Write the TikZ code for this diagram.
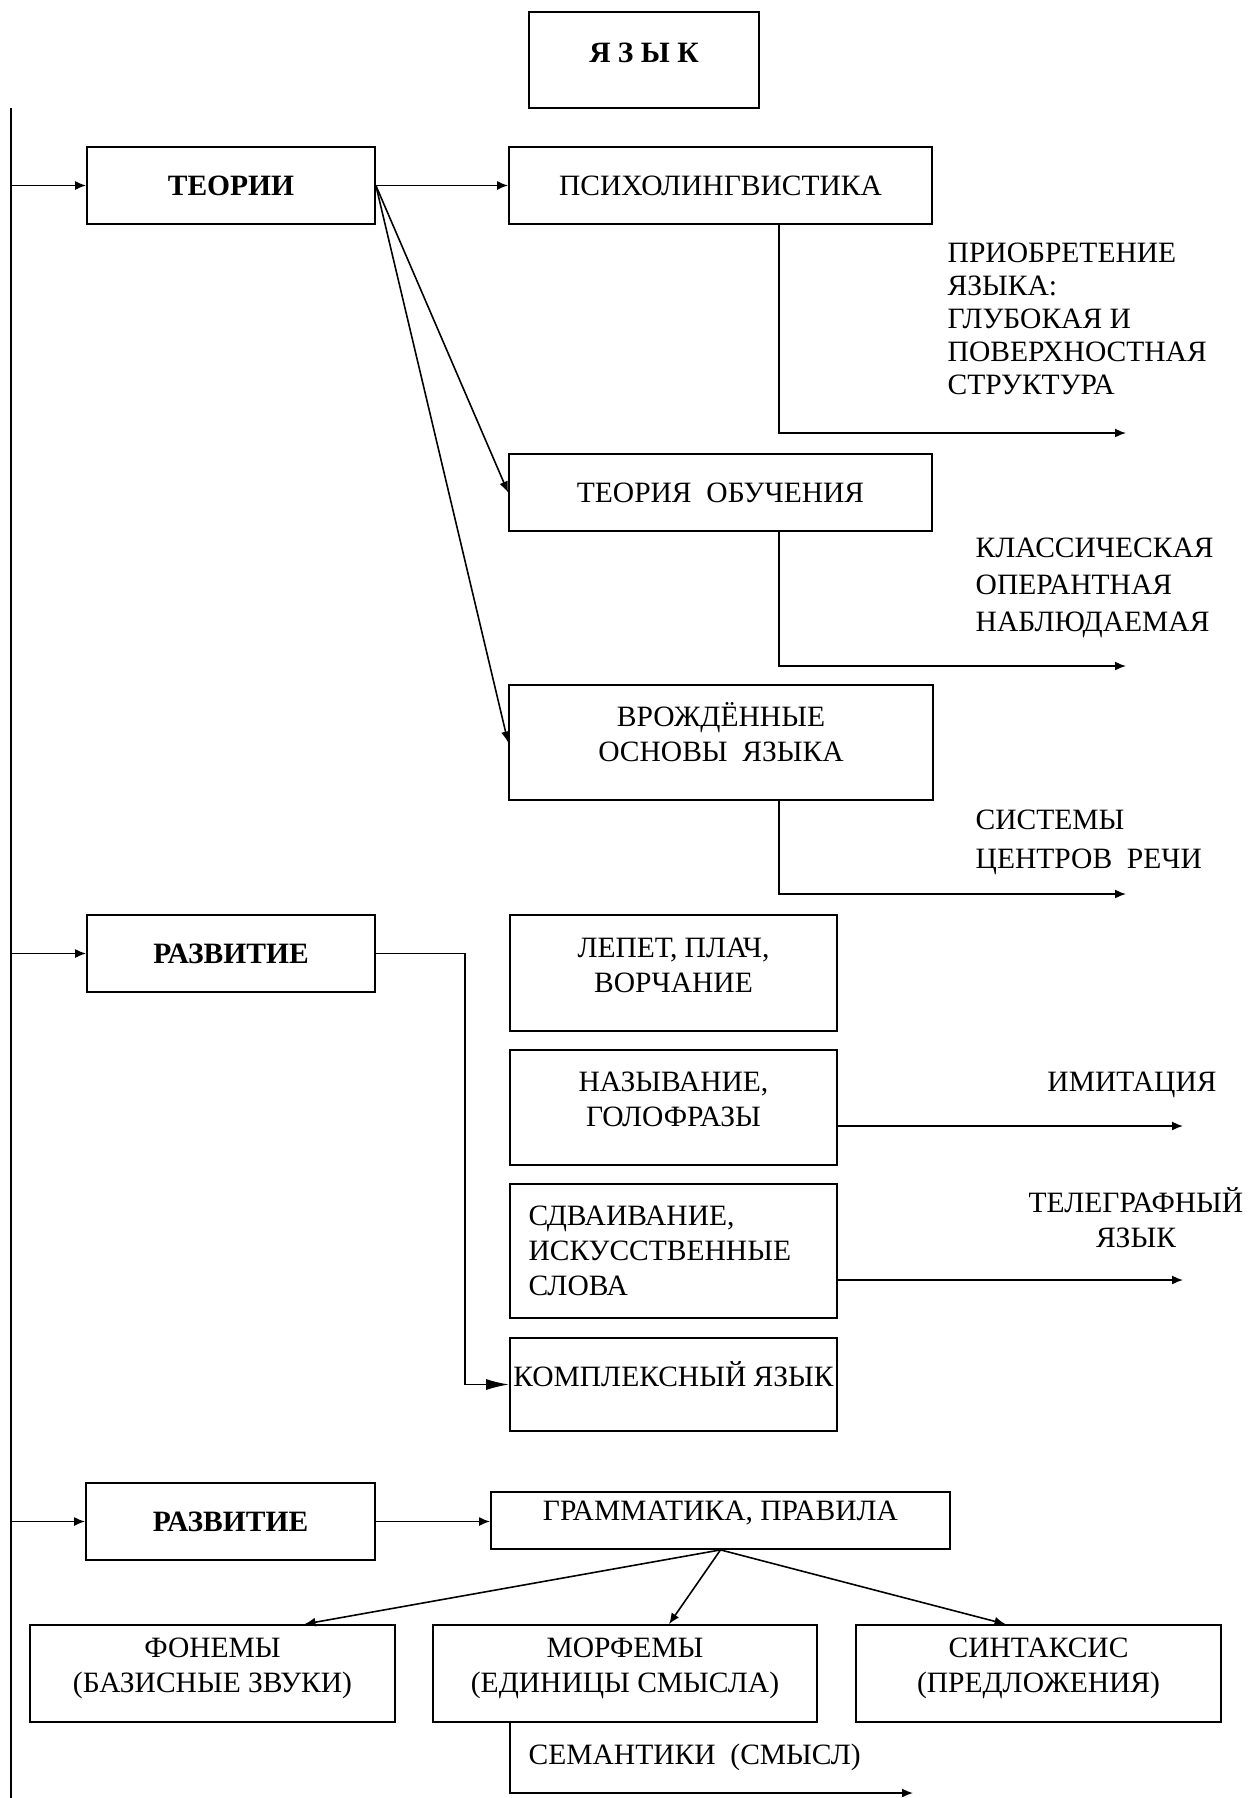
\documentclass[tikz,border=0pt]{standalone}
\usepackage{fontspec}
\setmainfont{Liberation Serif}
\usetikzlibrary{positioning,calc,arrows.meta}

\begin{document}
\begin{tikzpicture}[
    font=\fontsize{8.4}{10}\selectfont,
    box/.style={draw, line width=0.5pt, inner sep=2pt, align=center},
    head/.style={box, font=\fontsize{8.4}{10}\selectfont\bfseries},
    lifted/.style={text height=16pt, text depth=5pt},
    note/.style={anchor=west, inner sep=0pt, align=left},
    link/.style={line width=0.45pt, -{Latex[length=1.1mm,width=0.9mm]}},
    bigtip/.style={line width=0.45pt, -{Latex[length=2.3mm,width=1.1mm]}}
]

\useasboundingbox (0,0) rectangle (12.55,-17.98);

% Title
\node[head, minimum width=2.3cm, minimum height=0.96cm, text depth=4pt] (lang) at (6.44,-0.60) {Я З Ы К};

% Spine on the left
\coordinate (top) at (0.11,-1.08);
\coordinate (bot) at (0.11,-17.98);
\draw[line width=0.5pt] (top) -- (bot);

% Theories
\node[head, minimum width=2.88cm, minimum height=0.77cm] (theo) at (2.31,-1.855) {ТЕОРИИ};
\node[box, minimum width=4.23cm, minimum height=0.77cm] (psy) at (7.205,-1.855) {ПСИХОЛИНГВИСТИКА};
\node[box, minimum width=4.23cm, minimum height=0.77cm] (learn) at (7.205,-4.925) {ТЕОРИЯ~~ОБУЧЕНИЯ};
\node[box, lifted, minimum width=4.24cm, minimum height=1.15cm] (innate) at (7.21,-7.425) {ВРОЖДЁННЫЕ\\ОСНОВЫ~~ЯЗЫКА};

\draw[link] (theo -| top) -- (theo);
\draw[link] (theo.east) -- (psy);
\draw[link] (theo.east) -- (learn.west);
\draw[link] (theo.east) -- (innate.west);

% Outcomes of the theories
\coordinate (bx) at (7.79,0);
\coordinate (out1) at (11.26,-4.33);
\coordinate (out2) at (11.26,-6.66);
\coordinate (out3) at (11.26,-8.94);
\draw[link] (psy.south -| bx) |- (out1);
\draw[link] (learn.south -| bx) |- (out2);
\draw[link] (innate.south -| bx) |- (out3);

\node[note, font=\fontsize{8.4}{9.4}\selectfont] (acq) at (9.47,-3.185) {ПРИОБРЕТЕНИЕ\\ЯЗЫКА:\\ГЛУБОКАЯ И\\ПОВЕРХНОСТНАЯ\\СТРУКТУРА};
\node[note, font=\fontsize{8.4}{10.5}\selectfont] (cls) at (9.75,-5.88) {КЛАССИЧЕСКАЯ\\ОПЕРАНТНАЯ\\НАБЛЮДАЕМАЯ};
\node[note, font=\fontsize{8.4}{11}\selectfont] (ctr) at (9.75,-8.425) {СИСТЕМЫ\\ЦЕНТРОВ~~РЕЧИ};

% Development (stages)
\node[head, minimum width=2.88cm, minimum height=0.77cm] (dev1) at (2.31,-9.535) {РАЗВИТИЕ};
\node[box, lifted, minimum width=3.27cm, minimum height=1.16cm] (babble) at (6.735,-9.73) {ЛЕПЕТ, ПЛАЧ,\\ВОРЧАНИЕ};
\node[box, lifted, minimum width=3.27cm, minimum height=1.15cm] (naming) at (6.735,-11.075) {НАЗЫВАНИЕ,\\ГОЛОФРАЗЫ};
\node[box, minimum width=3.27cm, minimum height=1.34cm, text width=2.9cm, align=left] (dup) at (6.735,-12.51) {СДВАИВАНИЕ,\\ИСКУССТВЕННЫЕ\\СЛОВА};
\node[box, minimum width=3.27cm, minimum height=0.93cm, inner xsep=0pt, text depth=6pt] (cplx) at (6.735,-13.845) {КОМПЛЕКСНЫЙ ЯЗЫК};

\draw[link] (dev1 -| top) -- (dev1);
\coordinate (kink) at (4.65,0);
\draw[bigtip] (dev1.east) -| (kink |- cplx) -- (cplx);

\coordinate (out4) at (11.83,-11.26);
\coordinate (out5) at (11.83,-12.80);
\draw[link] (naming.east |- out4) -- (out4);
\draw[link] (dup.east |- out5) -- (out5);

\node[inner sep=0pt] (imit) at (11.32,-10.85) {ИМИТАЦИЯ};
\node[inner sep=0pt, align=center] (tele) at (11.36,-12.175) {ТЕЛЕГРАФНЫЙ\\ЯЗЫК};

% Development (grammar)
\node[head, minimum width=2.89cm, minimum height=0.77cm] (dev2) at (2.305,-15.215) {РАЗВИТИЕ};
\node[box, minimum width=4.59cm, minimum height=0.57cm, text depth=5.5pt] (gram) at (7.205,-15.205) {ГРАММАТИКА, ПРАВИЛА};

\draw[link] (dev2 -| top) -- (dev2);
\draw[link] (dev2) -- (gram.west |- dev2);

\node[box, lifted, minimum width=3.65cm, minimum height=0.97cm] (phon) at (2.125,-16.735) {ФОНЕМЫ\\(БАЗИСНЫЕ ЗВУКИ)};
\node[box, lifted, minimum width=3.84cm, minimum height=0.97cm] (morph) at (6.25,-16.735) {МОРФЕМЫ\\(ЕДИНИЦЫ СМЫСЛА)};
\node[box, lifted, minimum width=3.65cm, minimum height=0.97cm] (synt) at (10.385,-16.735) {СИНТАКСИС\\(ПРЕДЛОЖЕНИЯ)};

\draw[link] (gram.south) -- ($(phon.north)+(0.92,0)$);
\draw[link] (gram.south) -- ($(morph.north)+(0.44,0)$);
\draw[link] (gram.south) -- ($(synt.north)+(-0.33,0)$);

% Semantics
\coordinate (out6) at (9.13,-17.93);
\draw[link] ($(morph.south)+(-1.15,0)$) |- (out6);
\node[note] (sem) at (5.28,-17.57) {СЕМАНТИКИ~~(СМЫСЛ)};

\end{tikzpicture}
\end{document}
